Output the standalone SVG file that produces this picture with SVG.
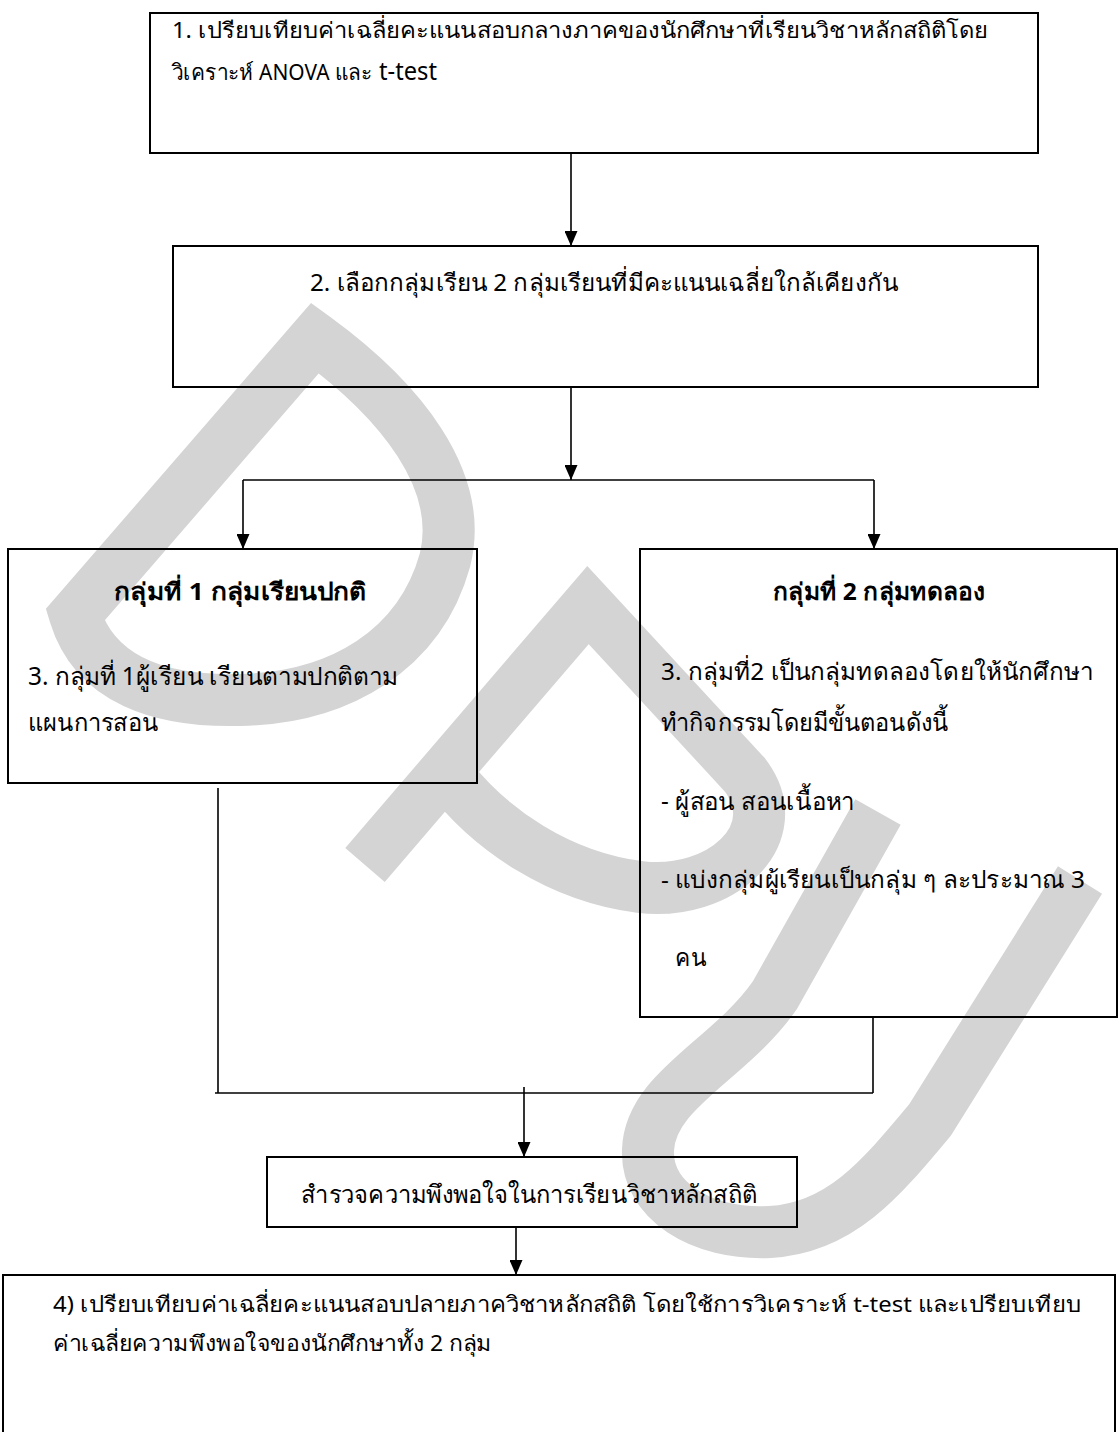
<svg xmlns="http://www.w3.org/2000/svg" width="1119" height="1432" viewBox="0 0 1119 1432">
<defs>
<style>
.box{fill:none;stroke:#000;stroke-width:2}
.wm{fill:none;stroke:#d4d4d4;stroke-width:52;stroke-linejoin:miter;stroke-miterlimit:6;stroke-linecap:butt}
.con{fill:none;stroke:#000;stroke-width:1.6}
.t{font-family:"Noto Sans","Liberation Sans",sans-serif;font-size:24px;fill:#000}
.s{font-size:22px}
.m{font-size:25px}
.l{font-size:26px}
.b{font-weight:bold}
</style>
<marker id="ah" markerUnits="userSpaceOnUse" viewBox="0 0 15 13" refX="15" refY="6.5" markerWidth="15" markerHeight="13" orient="auto">
<path d="M0,0 L15,6.5 L0,13 z" fill="#000"/>
</marker>
</defs>
<rect width="1119" height="1432" fill="#fff"/>
<g id="watermark">
<path class="wm" d="M315,338 L75,615 C95,680 160,702 240,700 C340,698 420,650 445,560 C465,480 400,400 315,338 Z"/>
<path class="wm" d="M365,865 L588,605 L745,775 C790,835 720,897 640,887 C560,877 490,830 448,775"/>
<path class="wm" d="M878,812 L775,995 C730,1060 650,1090 648,1150 C646,1200 700,1235 770,1232 C840,1228 880,1180 930,1120 L1080,880"/>
</g>
<g id="connectors">
<line class="con" x1="571" y1="153" x2="571" y2="246" marker-end="url(#ah)"/>
<line class="con" x1="571" y1="387" x2="571" y2="480" marker-end="url(#ah)"/>
<line class="con" x1="243" y1="480" x2="874" y2="480"/>
<line class="con" x1="243" y1="480" x2="243" y2="549" marker-end="url(#ah)"/>
<line class="con" x1="874" y1="480" x2="874" y2="549" marker-end="url(#ah)"/>
<line class="con" x1="218" y1="788" x2="218" y2="1093"/>
<line class="con" x1="873" y1="1017" x2="873" y2="1093"/>
<line class="con" x1="215" y1="1093" x2="873" y2="1093"/>
<line class="con" x1="524" y1="1087" x2="524" y2="1157" marker-end="url(#ah)"/>
<line class="con" x1="516" y1="1227" x2="516" y2="1275" marker-end="url(#ah)"/>
</g>
<g id="n1">
<rect class="box" x="150" y="13" width="888" height="140"/>
<text class="t s" x="172" y="38" textLength="816" lengthAdjust="spacingAndGlyphs">1. เปรียบเทียบค่าเฉลี่ยคะแนนสอบกลางภาคของนักศึกษาที่เรียนวิชาหลักสถิติโดย</text>
<text class="t s" x="172" y="80" textLength="200" lengthAdjust="spacingAndGlyphs">วิเคราะห์ ANOVA และ</text>
<text class="t l" x="379" y="80" textLength="58" lengthAdjust="spacingAndGlyphs">t-test</text>
</g>
<g id="n2">
<rect class="box" x="173" y="246" width="865" height="141"/>
<text class="t" x="310" y="291" textLength="588" lengthAdjust="spacingAndGlyphs">2.  เลือกกลุ่มเรียน 2 กลุ่มเรียนที่มีคะแนนเฉลี่ยใกล้เคียงกัน</text>
</g>
<g id="n3a">
<rect class="box" x="8" y="549" width="469" height="234"/>
<text class="t b" x="114" y="600" textLength="253" lengthAdjust="spacingAndGlyphs">กลุ่มที่ 1 กลุ่มเรียนปกติ</text>
<text class="t m" x="28" y="685" textLength="370" lengthAdjust="spacingAndGlyphs">3. กลุ่มที่ 1ผู้เรียน เรียนตามปกติตาม</text>
<text class="t m" x="28" y="731" textLength="130" lengthAdjust="spacingAndGlyphs">แผนการสอน</text>
</g>
<g id="n3b">
<rect class="box" x="640" y="549" width="477" height="468"/>
<text class="t b" x="773" y="600" textLength="212" lengthAdjust="spacingAndGlyphs">กลุ่มที่ 2 กลุ่มทดลอง</text>
<text class="t" x="661" y="680" textLength="432" lengthAdjust="spacingAndGlyphs">3.  กลุ่มที่2 เป็นกลุ่มทดลองโดยให้นักศึกษา</text>
<text class="t m" x="661" y="731" textLength="287" lengthAdjust="spacingAndGlyphs">ทำกิจกรรมโดยมีขั้นตอนดังนี้</text>
<text class="t m" x="661" y="810" textLength="194" lengthAdjust="spacingAndGlyphs">- ผู้สอน สอนเนื้อหา</text>
<text class="t" x="661" y="888" textLength="424" lengthAdjust="spacingAndGlyphs">- แบ่งกลุ่มผู้เรียนเป็นกลุ่ม ๆ ละประมาณ 3</text>
<text class="t m" x="675" y="966" textLength="31" lengthAdjust="spacingAndGlyphs">คน</text>
</g>
<g id="n4">
<rect class="box" x="267" y="1157" width="530" height="70"/>
<text class="t m" x="301" y="1203" textLength="456" lengthAdjust="spacingAndGlyphs">สำรวจความพึงพอใจในการเรียนวิชาหลักสถิติ</text>
</g>
<g id="n5">
<rect class="box" x="3" y="1275" width="1112" height="170"/>
<text class="t s" x="53" y="1312" textLength="1028" lengthAdjust="spacingAndGlyphs">4)  เปรียบเทียบค่าเฉลี่ยคะแนนสอบปลายภาควิชาหลักสถิติ  โดยใช้การวิเคราะห์ t-test  และเปรียบเทียบ</text>
<text class="t s" x="53" y="1351" textLength="439" lengthAdjust="spacingAndGlyphs">ค่าเฉลี่ยความพึงพอใจของนักศึกษาทั้ง 2 กลุ่ม</text>
</g>
</svg>
